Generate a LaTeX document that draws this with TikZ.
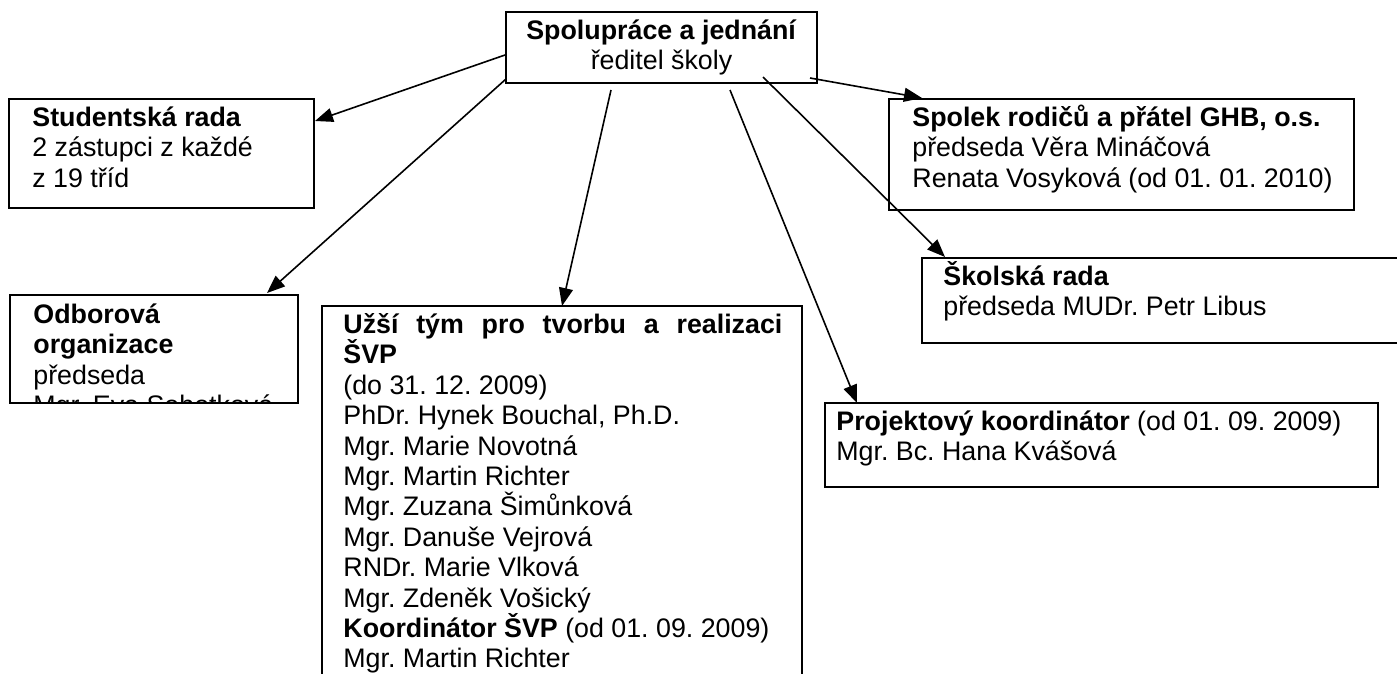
\documentclass[tikz,border=0pt]{standalone}
\usepackage{fontspec}
\setmainfont{Liberation Sans}
\usetikzlibrary{arrows.meta}
\frenchspacing

\newcommand{\topstrut}{\rule{0pt}{13.5pt}}

\begin{document}
\begin{tikzpicture}[x=0.5pt, y=-0.5pt,
    box/.style={draw, line width=1pt, rectangle, inner sep=0pt, outer sep=0pt, anchor=north west},
    txt/.style={anchor=north west, inner sep=0pt, align=left, font=\fontsize{13.4}{15.2}\selectfont},
    arr/.style={-{Triangle[length=9pt, width=7pt]}, line width=0.8pt}]

      \useasboundingbox (0, 0) rectangle (1397, 674);
      \clip (0, 0) rectangle (1397, 674);

      % boxes
      \node[box, minimum width=155.5pt, minimum height=35.5pt] (spol) at (506, 12) {};
      \node[box, minimum width=152.5pt, minimum height=54.5pt] (stud) at (9, 99) {};
      \node[box, minimum width=144pt, minimum height=54pt] (odb) at (10, 295) {};
      \node[box, minimum width=240pt, minimum height=210pt] (uzsi) at (322, 306) {};
      \node[box, minimum width=232.5pt, minimum height=55.5pt] (spolek) at (889, 99) {};
      \node[box, minimum width=269pt, minimum height=42.5pt] (skol) at (922, 258) {};
      \node[box, minimum width=276.5pt, minimum height=42pt] (proj) at (825, 403) {};

      % texts
      \node[txt, anchor=north, align=center] at (spol.north)
        {\topstrut\textbf{Spolupráce a jednání}\\ředitel školy};
      \node[txt] at ([shift={(23, 0)}]stud.north west)
        {\topstrut\textbf{Studentská rada}\\2 zástupci z každé\\z 19 tříd};
      \begin{scope}
        \clip (odb.north west) rectangle (odb.south east);
        \node[txt] at ([shift={(23, 1)}]odb.north west)
          {\topstrut\textbf{Odborová}\\\textbf{organizace}\\předseda\\Mgr. Eva Sobotková};
      \end{scope}
      \node[txt] at ([shift={(21, 0)}]uzsi.north west)
        {\topstrut\makebox[219.5pt][s]{\bfseries Užší tým pro tvorbu a realizaci}\\
         \textbf{ŠVP}\\
         (do 31. 12. 2009)\\
         PhDr. Hynek Bouchal, Ph.D.\\
         Mgr. Marie Novotná\\
         Mgr. Martin Richter\\
         Mgr. Zuzana Šimůnková\\
         Mgr. Danuše Vejrová\\
         RNDr. Marie Vlková\\
         Mgr. Zdeněk Vošický\\
         \textbf{Koordinátor ŠVP} (od 01. 09. 2009)\\
         Mgr. Martin Richter};
      \node[txt] at ([shift={(23, 0)}]spolek.north west)
        {\topstrut\textbf{Spolek rodičů a přátel GHB, o.s.}\\předseda Věra Mináčová\\Renata Vosyková (od 01. 01. 2010)};
      \node[txt] at ([shift={(21, 0)}]skol.north west)
        {\topstrut\textbf{Školská rada}\\předseda MUDr. Petr Libus};
      \node[txt] at ([shift={(11, 0)}]proj.north west)
        {\topstrut\textbf{Projektový koordinátor} (od 01. 09. 2009)\\Mgr. Bc. Hana Kvášová};

      % arrows
      \draw[arr] ([shift={(-1, -28)}]spol.south west) -- ([shift={(1, 22)}]stud.north east);
      \draw[arr] ([shift={(0, -4)}]spol.south west) -- ([shift={(-31, -2)}]odb.north east);
      \draw[arr] ([shift={(105, 7)}]spol.south west) -- ([shift={(240, 0)}]uzsi.north west);
      \draw[arr] ([shift={(224, 7)}]spol.south west) -- ([shift={(32, 0)}]proj.north west);
      \draw[arr] ([shift={(257, -6)}]spol.south west) -- ([shift={(23, -1)}]skol.north west);
      \draw[arr] ([shift={(-7, -5)}]spol.south east) -- ([shift={(33, -1)}]spolek.north west);

    \end{tikzpicture}
\end{document}
